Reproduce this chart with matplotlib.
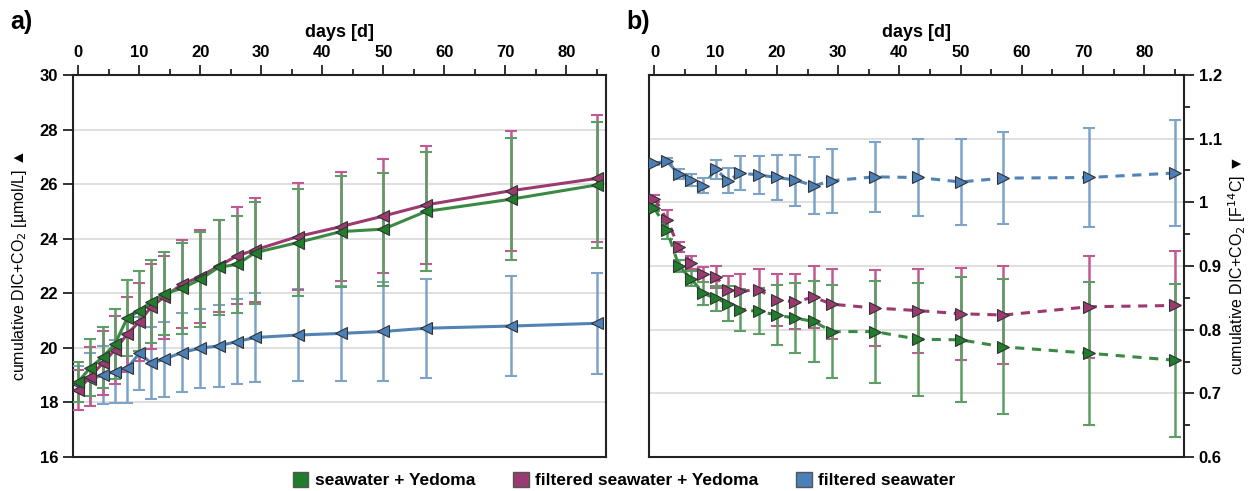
import numpy as np
import matplotlib.pyplot as plt
from matplotlib.ticker import MultipleLocator, FuncFormatter
from matplotlib.patches import Patch

plt.rcParams['font.family'] = ['Liberation Sans', 'DejaVu Sans']

# sampling days
days = [0, 2, 4, 6, 8, 10, 12, 14, 17, 20, 23, 26, 29, 36, 43, 50, 57, 71, 85]

# a) cumulative DIC+CO2 [umol/L]
sw_yed_a = [18.76, 19.28, 19.66, 20.14, 21.08, 21.36, 21.69, 21.98, 22.18, 22.51, 22.95, 23.06,
            23.49, 23.86, 24.26, 24.35, 25.0, 25.45, 25.97]
sw_yed_a_err = [0.73, 1.04, 1.12, 1.27, 1.39, 1.47, 1.52, 1.52, 1.68, 1.73, 1.74, 1.79,
                1.87, 1.95, 2.02, 2.07, 2.18, 2.23, 2.32]
fsw_yed_a = [18.46, 18.95, 19.44, 19.92, 20.5, 20.96, 21.51, 21.85, 22.33, 22.61, 23.0, 23.37,
             23.59, 24.08, 24.44, 24.83, 25.24, 25.76, 26.21]
fsw_yed_a_err = [0.73, 1.07, 1.16, 1.23, 1.38, 1.43, 1.56, 1.53, 1.62, 1.71, 1.69, 1.78,
                 1.91, 1.95, 2.0, 2.09, 2.16, 2.2, 2.32]
fsw_a = [18.68, 18.85, 19.01, 19.13, 19.25, 19.8, 19.44, 19.58, 19.83, 19.99, 20.07, 20.23,
         20.38, 20.47, 20.53, 20.6, 20.72, 20.8, 20.9]
fsw_a_err = [0.65, 0.98, 1.06, 1.14, 1.28, 1.34, 1.32, 1.37, 1.44, 1.45, 1.49, 1.55,
             1.64, 1.67, 1.73, 1.8, 1.81, 1.82, 1.86]

# b) cumulative DIC+CO2 [F14C]
sw_yed_b = [0.991, 0.957, 0.900, 0.880, 0.857, 0.849, 0.841, 0.831, 0.829, 0.823, 0.818, 0.813,
            0.797, 0.797, 0.785, 0.784, 0.773, 0.763, 0.752]
sw_yed_b_err = [0.005, 0.015, 0.01, 0.012, 0.018, 0.02, 0.028, 0.033, 0.036, 0.047, 0.055, 0.064,
                0.073, 0.08, 0.089, 0.098, 0.106, 0.112, 0.12]
fsw_yed_b = [1.006, 0.973, 0.930, 0.905, 0.887, 0.883, 0.862, 0.860, 0.863, 0.846, 0.844, 0.851,
             0.840, 0.834, 0.830, 0.825, 0.823, 0.836, 0.838]
fsw_yed_b_err = [0.005, 0.015, 0.008, 0.01, 0.012, 0.017, 0.022, 0.027, 0.033, 0.041, 0.043, 0.049,
                 0.055, 0.06, 0.066, 0.072, 0.077, 0.08, 0.086]
fsw_b = [1.061, 1.065, 1.044, 1.035, 1.026, 1.052, 1.034, 1.046, 1.043, 1.039, 1.035, 1.026,
         1.034, 1.040, 1.039, 1.032, 1.038, 1.039, 1.046]
fsw_b_err = [0.003, 0.005, 0.008, 0.01, 0.012, 0.015, 0.02, 0.026, 0.03, 0.035, 0.04, 0.045,
             0.05, 0.055, 0.06, 0.067, 0.072, 0.077, 0.083]

labels = ['seawater + Yedoma', 'filtered seawater + Yedoma', 'filtered seawater']
line_cols = ['#3b8a43', '#9c3a6f', '#5283b5']
err_cols = ['#5c9e63', '#c05a90', '#7ea3c9']
mark_cols = ['#1f7d2c', '#9a3a70', '#4a7fb8']

fig = plt.figure(figsize=(12.48, 4.91), dpi=100)
ax1 = fig.add_axes([0.0583, 0.0692, 0.4273, 0.7781])
ax2 = fig.add_axes([0.520, 0.0692, 0.4287, 0.7781])

series_a = [(sw_yed_a, sw_yed_a_err), (fsw_yed_a, fsw_yed_a_err), (fsw_a, fsw_a_err)]
series_b = [(sw_yed_b, sw_yed_b_err), (fsw_yed_b, fsw_yed_b_err), (fsw_b, fsw_b_err)]
zord = [5, 4, 3]

for i in [2, 1, 0]:
    y, e = series_a[i]
    ax1.errorbar(days, y, yerr=e, fmt='none', ecolor=err_cols[i], elinewidth=1.8,
                 capsize=4, capthick=1.5, zorder=zord[i])
    ax1.plot(days, y, '-', color=line_cols[i], lw=2.2, marker='<', markersize=9,
             markerfacecolor=mark_cols[i], markeredgecolor='#333333', markeredgewidth=0.8,
             zorder=zord[i] + 3)
    y, e = series_b[i]
    ax2.errorbar(days, y, yerr=e, fmt='none', ecolor=err_cols[i], elinewidth=1.8,
                 capsize=4, capthick=1.5, zorder=zord[i])
    ax2.plot(days, y, '--', color=line_cols[i], lw=2.2, dashes=(3, 2.5), marker='>', markersize=9,
             markerfacecolor=mark_cols[i], markeredgecolor='#333333', markeredgewidth=0.8,
             zorder=zord[i] + 3)

for ax in [ax1, ax2]:
    ax.set_xlim(-0.9, 86.5)
    ax.xaxis.tick_top()
    ax.xaxis.set_label_position('top')
    ax.xaxis.set_major_locator(MultipleLocator(10))
    ax.xaxis.set_minor_locator(MultipleLocator(5))
    ax.set_xlabel('days [d]', fontsize=13, fontweight='bold', labelpad=6)
    ax.grid(axis='y', color='#d9d9d9', lw=1.2, zorder=0)
    ax.set_axisbelow(True)
    for s in ax.spines.values():
        s.set_linewidth(1.5)
        s.set_color('#222222')
    ax.tick_params(which='both', direction='out', width=1.3, labelsize=12, color='#222222')
    ax.tick_params(which='major', length=7)
    ax.tick_params(which='minor', length=4)
    for lab in ax.get_xticklabels() + ax.get_yticklabels():
        lab.set_fontweight('bold')

ax1.set_ylim(16, 30)
ax1.yaxis.set_major_locator(MultipleLocator(2))
ax1.set_ylabel('cumulative DIC+CO$_2$ [µmol/L] ▲', fontsize=11.5, labelpad=8)

ax2.set_ylim(0.6, 1.2)
ax2.yaxis.tick_right()
ax2.yaxis.set_label_position('right')
ax2.yaxis.set_major_locator(MultipleLocator(0.1))
ax2.yaxis.set_minor_locator(MultipleLocator(0.05))
ax2.yaxis.set_major_formatter(FuncFormatter(lambda v, p: '{:g}'.format(round(v, 2))))
ax2.set_ylabel('cumulative DIC+CO$_2$ [F$^{14}$C] ▼', fontsize=11.5, labelpad=3,
               rotation=90)
for lab in ax2.get_yticklabels():
    lab.set_fontweight('bold')

fig.text(0.008, 0.955, 'a)', fontsize=18, fontweight='bold', va='center')
fig.text(0.502, 0.955, 'b)', fontsize=18, fontweight='bold', va='center')

handles = [Patch(facecolor=mark_cols[i], edgecolor='#555555', label=labels[i]) for i in range(3)]
fig.legend(handles=handles, loc='center', bbox_to_anchor=(0.5, 0.022), ncol=3, frameon=False,
           prop={'weight': 'bold', 'size': 12.5}, handlelength=0.9, handleheight=0.9,
           handletextpad=0.35, columnspacing=2.2)

fig.savefig('out.png', dpi=100)
